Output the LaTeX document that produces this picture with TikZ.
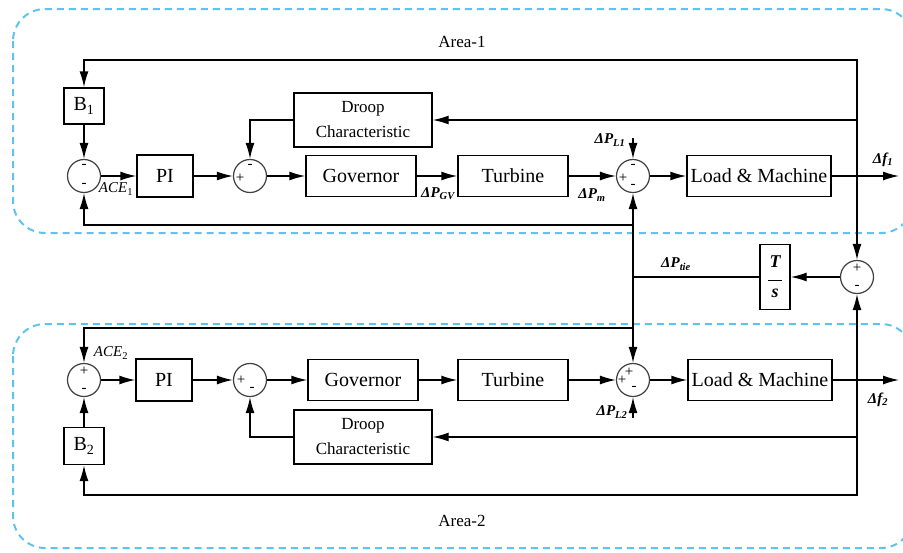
\documentclass[tikz,border=0pt]{standalone}
\usepackage{fontspec}
\setmainfont{Liberation Serif}
\usetikzlibrary{arrows.meta}
\definecolor{areablue}{RGB}{95,195,240}

\begin{document}
\begin{tikzpicture}[x=1pt, y=-1pt, line width=1.4pt, >={Latex[length=16pt,width=9pt]},
        blk/.style={draw, inner sep=0pt, font=\fontsize{20}{22}\selectfont},
        sumj/.style={draw=black!75, circle, minimum size=33pt, inner sep=0pt, line width=1.2pt},
        sgn/.style={inner sep=0pt, font=\fontsize{15}{15}\selectfont},
        var/.style={inner sep=0pt, font=\fontsize{15}{15}\selectfont\bfseries\itshape},
        area/.style={draw=areablue, dash pattern=on 7pt off 5pt, line width=2pt, rounded corners=32pt}]
        \useasboundingbox (0, 0) rectangle (903, 552);
        \clip (0, 0) rectangle (903, 552);
        \draw [area] (13, 9) rectangle (913, 233);
        \draw [area] (13, 324) rectangle (913, 548);
        \node (A1) at (462, 42) {\fontsize{17}{17}\selectfont Area-1};
        \node (A2) at (462, 521) {\fontsize{17}{17}\selectfont Area-2};
        % area 1
        \node [blk, minimum width=40pt, minimum height=36pt] (B1) at (84, 106) {B\textsubscript{1}};
        \node [sumj] (S1) at (84, 176) {};
        \node [blk, minimum width=56pt, minimum height=42pt] (PI1) at (165, 176) {PI};
        \node [sumj] (S2) at (250, 176) {};
        \node [blk, minimum width=110pt, minimum height=41pt] (GOV1) at (361, 176) {Governor};
        \node [blk, minimum width=138pt, minimum height=54pt, align=center, font=\fontsize{17}{25}\selectfont] (DR1) at (363, 120) {Droop\\Characteristic};
        \node [blk, minimum width=110pt, minimum height=41pt] (TUR1) at (513, 176) {Turbine};
        \node [sumj] (S3) at (633, 176) {};
        \node [blk, minimum width=144pt, minimum height=41pt] (LM1) at (759, 176) {Load \& Machine};
        \coordinate (FB1) at (857, 176);
        \coordinate (O1) at (899, 176);
        \coordinate (TL1) at (84, 60);
        \coordinate (LD1) at (633, 138);
        \coordinate (FA1) at (633, 225);
        \node [sgn] (S1a) at (84, 166) {-};
        \node [sgn] (S1b) at (84, 185) {-};
        \node [sgn] (S2a) at (240, 178) {+};
        \node [sgn] (S2b) at (250, 166) {-};
        \node [sgn] (S3a) at (623, 178) {+};
        \node [sgn] (S3b) at (633, 166) {-};
        \node [sgn] (S3c) at (633, 186) {-};
        \node [var, font=\fontsize{15}{15}\selectfont\itshape] (ACE1) at (116, 189) {ACE\textsubscript{\upshape 1}};
        \node [var] (PGV1) at (438, 194) {ΔP\textsubscript{GV}};
        \node [var] (PM1) at (592, 195) {ΔP\textsubscript{m}};
        \node [var] (PL1) at (610, 140) {ΔP\textsubscript{L1}};
        \node [var] (F1) at (883, 160) {Δf\textsubscript{1}};
        \draw [->] (FB1) |- (TL1) -- (B1);
        \draw [->] (FB1) |- (DR1);
        \draw [->] (B1) -- (S1);
        \draw [->] (S1) -- (PI1);
        \draw [->] (PI1) -- (S2);
        \draw [->] (S2) -- (GOV1);
        \draw [->] (DR1) -| (S2);
        \draw [->] (GOV1) -- (TUR1);
        \draw [->] (TUR1) -- (S3);
        \draw [->] (LD1) -- (S3);
        \draw [->] (S3) -- (LM1);
        \draw [->] (LM1) -- (O1);
        \draw [->] (FA1) -| (S1);
        % tie line
        \node [sumj] (S4) at (857, 277) {};
        \node [blk, minimum width=30pt, minimum height=65pt, align=center, font=\fontsize{18}{18}\selectfont\bfseries\itshape] (TS) at (775, 277) {T\\[-5pt]\rule{14pt}{1.2pt}\\[-1pt]s};
        \coordinate (TJ) at (633, 277);
        \node [sgn] (S4a) at (857, 268) {+};
        \node [sgn] (S4b) at (857, 287) {-};
        \node [var] (PT) at (676, 264) {ΔP\textsubscript{tie}};
        \draw [->] (FB1) -- (S4);
        \draw [->] (S4) -- (TS);
        \draw (TS) -- (TJ);
        % area 2
        \node [sumj] (S5) at (84, 380) {};
        \node [blk, minimum width=40pt, minimum height=37pt] (B2) at (84, 446) {B\textsubscript{2}};
        \node [blk, minimum width=56pt, minimum height=42pt] (PI2) at (164, 380) {PI};
        \node [sumj] (S6) at (250, 380) {};
        \node [blk, minimum width=110pt, minimum height=41pt] (GOV2) at (363, 380) {Governor};
        \node [blk, minimum width=138pt, minimum height=54pt, align=center, font=\fontsize{17}{25}\selectfont] (DR2) at (363, 437) {Droop\\Characteristic};
        \node [blk, minimum width=110pt, minimum height=41pt] (TUR2) at (513, 380) {Turbine};
        \node [sumj] (S7) at (633, 380) {};
        \node [blk, minimum width=144pt, minimum height=41pt] (LM2) at (760, 380) {Load \& Machine};
        \coordinate (FB2) at (857, 380);
        \coordinate (O2) at (899, 380);
        \coordinate (BL2) at (84, 495);
        \coordinate (LD2) at (633, 418);
        \coordinate (FA2) at (633, 328);
        \node [sgn] (S5a) at (84, 371) {+};
        \node [sgn] (S5b) at (84, 390) {-};
        \node [sgn] (S6a) at (241, 380) {+};
        \node [sgn] (S6b) at (252, 389) {-};
        \node [sgn] (S7a) at (629, 372) {+};
        \node [sgn] (S7b) at (622, 380) {+};
        \node [sgn] (S7c) at (634, 388) {-};
        \node [var, font=\fontsize{15}{15}\selectfont\itshape] (ACE2) at (111, 353) {ACE\textsubscript{\upshape 2}};
        \node [var] (PL2) at (612, 412) {ΔP\textsubscript{L2}};
        \node [var] (F2) at (878, 400) {Δf\textsubscript{2}};
        \draw [->] (FA2) -| (S5);
        \draw [->] (B2) -- (S5);
        \draw [->] (S5) -- (PI2);
        \draw [->] (PI2) -- (S6);
        \draw [->] (S6) -- (GOV2);
        \draw [->] (DR2) -| (S6);
        \draw [->] (GOV2) -- (TUR2);
        \draw [->] (TUR2) -- (S7);
        \draw [->] (LD2) -- (S7);
        \draw [->] (S7) -- (LM2);
        \draw [->] (LM2) -- (O2);
        \draw [->] (FB2) -- (S4);
        \draw [->] (FB2) |- (DR2);
        \draw [->] (FB2) |- (BL2) -- (B2);
        \draw [->] (TJ) -- (S3);
        \draw [->] (TJ) -- (S7);
        \draw (FA1) -- (TJ);
\end{tikzpicture}
\end{document}
